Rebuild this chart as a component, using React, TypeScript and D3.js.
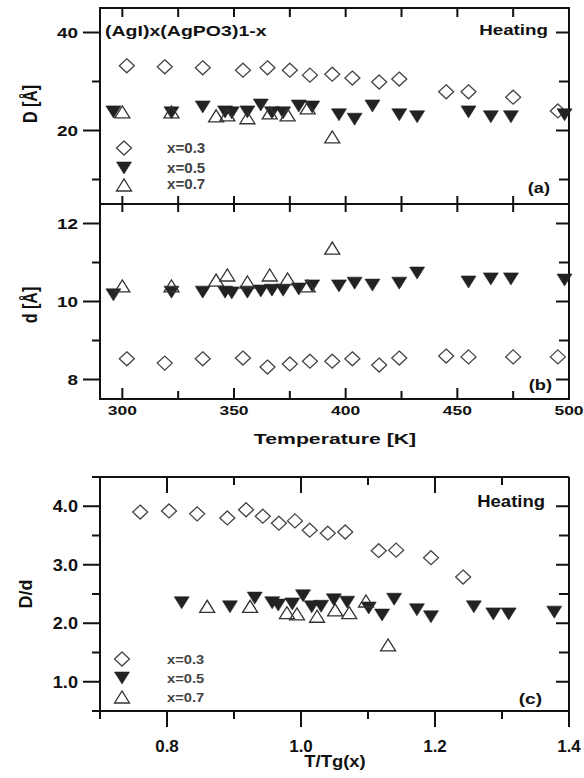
import React from 'react'
import * as d3 from 'd3'

// (AgI)x(AgPO3)1-x, heating run. values
const seriesLabels = ['x=0.3', 'x=0.5', 'x=0.7']

const temp03 = [302, 319, 336, 354, 365, 375, 384, 394, 403, 415, 424, 445, 455, 475, 495]
const bigD03 = [33.2, 33.0, 32.8, 32.3, 32.8, 32.3, 31.3, 31.5, 30.7, 29.9, 30.5, 27.9, 27.9, 26.8, 24.0]
const smallD03 = [8.53, 8.42, 8.53, 8.55, 8.32, 8.4, 8.47, 8.47, 8.53, 8.37, 8.55, 8.6, 8.58, 8.58, 8.58]

const temp05 = [296, 322, 336, 346, 349, 356, 362, 367, 372, 379, 385, 397, 404, 412, 424, 432, 455, 465, 474, 498]
const bigD05 = [23.8, 23.6, 24.8, 23.8, 23.6, 23.8, 25.2, 23.6, 23.6, 25.0, 24.8, 23.2, 22.3, 25.0, 23.2, 22.8, 23.8, 22.8, 22.8, 23.2]
const smallD05 = [10.17, 10.24, 10.24, 10.24, 10.22, 10.24, 10.27, 10.29, 10.29, 10.32, 10.4, 10.4, 10.47, 10.42, 10.47, 10.73, 10.5, 10.58, 10.58, 10.55]

const temp07 = [300, 322, 342, 347, 356, 366, 374, 383, 394]
const bigD07 = [23.8, 23.8, 23.0, 23.2, 22.6, 23.6, 23.2, 24.6, 18.7]
const smallD07 = [10.4, 10.4, 10.55, 10.68, 10.5, 10.68, 10.58, 10.4, 11.37]

const tRel03 = [0.76, 0.803, 0.845, 0.89, 0.918, 0.943, 0.967, 0.991, 1.013, 1.04, 1.066, 1.116, 1.142, 1.194, 1.242]
const ratio03 = [3.9, 3.92, 3.87, 3.8, 3.94, 3.83, 3.71, 3.75, 3.59, 3.54, 3.56, 3.24, 3.25, 3.12, 2.79]

const tRel05 = [0.822, 0.894, 0.931, 0.957, 0.966, 0.987, 1.003, 1.016, 1.03, 1.049, 1.069, 1.101, 1.121, 1.139, 1.173, 1.194, 1.258, 1.287, 1.31, 1.378]
const ratio05 = [2.35, 2.28, 2.43, 2.35, 2.31, 2.33, 2.47, 2.28, 2.29, 2.4, 2.36, 2.26, 2.14, 2.41, 2.23, 2.11, 2.28, 2.16, 2.16, 2.19]

const tRel07 = [0.86, 0.924, 0.979, 0.994, 1.024, 1.051, 1.072, 1.097, 1.13]
const ratio07 = [2.29, 2.29, 2.18, 2.16, 2.12, 2.23, 2.18, 2.38, 1.63]

const tempTicks = [300, 350, 400, 450, 500]
const bigDTicks = [20, 40]
const smallDTicks = [8, 10, 12]
const relTicks = [0.8, 1.0, 1.2, 1.4]
const ratioTicks = [1.0, 2.0, 3.0, 4.0]

const FONT = '"Liberation Sans", Arial, Helvetica, sans-serif'
const L = 100
const R = 569

const xT = d3.scaleLinear().domain([290, 500]).range([L, R])
const yBig = d3.scaleLinear().domain([5, 45]).range([204, 8])
const ySmall = d3.scaleLinear().domain([7.5, 12.5]).range([399, 204])
const xRel = d3.scaleLinear().domain([0.7, 1.4]).range([L, R])
const yRatio = d3.scaleLinear().domain([0.5, 4.5]).range([711, 477])

const markerPath = (kind, cx, cy) => {
  const p = d3.path()
  if (kind === 'diamond') {
    p.moveTo(cx, cy - 7)
    p.lineTo(cx + 7.5, cy)
    p.lineTo(cx, cy + 7)
    p.lineTo(cx - 7.5, cy)
  } else if (kind === 'down') {
    p.moveTo(cx - 7.5, cy - 6)
    p.lineTo(cx + 7.5, cy - 6)
    p.lineTo(cx, cy + 6)
  } else {
    p.moveTo(cx - 7.5, cy + 6)
    p.lineTo(cx + 7.5, cy + 6)
    p.lineTo(cx, cy - 6)
  }
  p.closePath()
  return p.toString()
}

const markerStyle = {
  diamond: { fill: 'none', stroke: '#444', strokeWidth: 1.3 },
  down: { fill: '#222', stroke: '#222', strokeWidth: 0.6 },
  up: { fill: 'none', stroke: '#333', strokeWidth: 1.3 }
}

const Marker = ({ kind, x, y }) => <path d={markerPath(kind, x, y)} {...markerStyle[kind]} />

const Txt = ({ x, y, size, sx = 1, anchor = 'start', rotate = 0, fill = '#111', children }) => (
  <text
    transform={`translate(${x},${y}) scale(${sx},1)${rotate ? ` rotate(${rotate})` : ''}`}
    fontSize={size}
    fontWeight="bold"
    fontFamily={FONT}
    textAnchor={anchor}
    fill={fill}
  >
    {children}
  </text>
)

// tick marks along an axis; offsets are relative to the axis line
const tickMarks = (key, vals, scale, isMajor, axis, at, major, minor) =>
  vals.map(v => {
    const [a, b] = isMajor(v) ? major : minor
    const p = scale(v)
    return axis === 'x' ? (
      <line key={key + v} x1={p} x2={p} y1={at + a} y2={at + b} />
    ) : (
      <line key={key + v} x1={at + a} x2={at + b} y1={p} y2={p} />
    )
  })

const scatter = (key, kind, xs, ys, sx, sy) =>
  xs.map((v, i) => <Marker key={key + i} kind={kind} x={sx(v)} y={sy(ys[i])} />)

const legend = (x, ys, tx, tys, size, sx) => {
  const kinds = ['diamond', 'down', 'up']
  return kinds.map((k, i) => (
    <g key={'lg' + k}>
      <Marker kind={k} x={x} y={ys[i]} />
      <Txt x={tx} y={tys[i]} size={size} sx={sx} fill="#444">
        {seriesLabels[i]}
      </Txt>
    </g>
  ))
}

const App = () => {
  const tempMinor = d3.range(300, 501, 25)
  const isTempMajor = v => v % 50 === 0
  const relMinor = d3.range(7, 15).map(d => d / 10)
  const isRelMajor = v => Math.round(v * 10) % 2 === 0
  const ratioMinor = d3.range(2, 9).map(d => d / 2)

  return (
    <svg width={584} height={778} style={{ position: 'absolute', left: 0, top: 0, background: '#fff' }}>
      {/* upper figure: panels (a) and (b) */}
      <g stroke="#111" strokeWidth={2} fill="none">
        <rect x={L} y={8} width={R - L} height={391} />
        <line x1={L} x2={R} y1={204} y2={204} />
        {tickMarks('ta', tempMinor, xT, isTempMajor, 'x', 8, [0, 9], [0, 9])}
        {tickMarks('tm', tempMinor, xT, isTempMajor, 'x', 204, [-8, 8], [-8, 8])}
        {tickMarks('tb', tempMinor, xT, isTempMajor, 'x', 399, [-11, 0], [-8, 0])}
        {tickMarks('la', [10, 20, 30, 40], yBig, v => v % 20 === 0, 'y', L, [-17, 0], [-8, 0])}
        {tickMarks('ra', [10, 20, 30, 40], yBig, v => v % 20 === 0, 'y', R, [-13, 0], [-10, 0])}
        {tickMarks('lb', [8, 9, 10, 11, 12], ySmall, v => v % 2 === 0, 'y', L, [-17, 0], [-8, 0])}
        {tickMarks('rb', [8, 9, 10, 11, 12], ySmall, v => v % 2 === 0, 'y', R, [-13, 0], [-10, 0])}
      </g>

      {bigDTicks.map(v => (
        <Txt key={'yla' + v} x={78} y={yBig(v) + 5} size={14} sx={1.35} anchor="end">
          {v}
        </Txt>
      ))}
      {smallDTicks.map(v => (
        <Txt key={'ylb' + v} x={78} y={ySmall(v) + 5} size={14} sx={1.35} anchor="end">
          {v}
        </Txt>
      ))}
      {tempTicks.map(v => (
        <Txt key={'xlb' + v} x={xT(v)} y={415} size={12.5} sx={1.4} anchor="middle">
          {v}
        </Txt>
      ))}
      <Txt x={335} y={444} size={15.5} sx={1.37} anchor="middle">
        Temperature [K]
      </Txt>
      <Txt x={37} y={104} size={16} sx={1.3} rotate={-90} anchor="middle">
        D [Å]
      </Txt>
      <Txt x={37} y={305} size={16} sx={1.3} rotate={-90} anchor="middle">
        d [Å]
      </Txt>
      <Txt x={105} y={36} size={15.5} sx={1.26}>
        (AgI)x(AgPO3)1-x
      </Txt>
      <Txt x={548} y={35} size={15.4} sx={1.22} anchor="end">
        Heating
      </Txt>
      <Txt x={550} y={193} size={14} sx={1.3} anchor="end">
        (a)
      </Txt>
      <Txt x={552} y={390} size={14} sx={1.3} anchor="end">
        (b)
      </Txt>

      {scatter('a3', 'diamond', temp03, bigD03, xT, yBig)}
      {scatter('a5', 'down', temp05, bigD05, xT, yBig)}
      {scatter('a7', 'up', temp07, bigD07, xT, yBig)}
      {scatter('b3', 'diamond', temp03, smallD03, xT, ySmall)}
      {scatter('b5', 'down', temp05, smallD05, xT, ySmall)}
      {scatter('b7', 'up', temp07, smallD07, xT, ySmall)}
      {legend(124, [148, 168, 185], 167, [153, 173, 189], 14, 1.08)}

      {/* lower figure: panel (c) */}
      <g stroke="#111" strokeWidth={2} fill="none">
        <line x1={92} x2={R} y1={477} y2={477} />
        <line x1={92} x2={R} y1={711} y2={711} />
        <line x1={L} x2={L} y1={477} y2={711} />
        <line x1={R} x2={R} y1={477} y2={711} />
        {tickMarks('tc', relMinor, xRel, isRelMajor, 'x', 477, [0, 16], [0, 8])}
        {tickMarks('bc', relMinor, xRel, isRelMajor, 'x', 711, [0, 16], [0, 8])}
        {tickMarks('lc', ratioMinor, yRatio, v => Number.isInteger(v), 'y', L, [-17, 0], [-8, 0])}
        {tickMarks('rc', ratioMinor, yRatio, v => Number.isInteger(v), 'y', R, [-13, 0], [-10, 0])}
      </g>

      {ratioTicks.map(v => (
        <Txt key={'ylc' + v} x={78} y={yRatio(v) + 6} size={16.5} sx={1.1} anchor="end">
          {v.toFixed(1)}
        </Txt>
      ))}
      {relTicks.map(v => (
        <Txt key={'xlc' + v} x={xRel(v)} y={752} size={17} anchor="middle">
          {v.toFixed(1)}
        </Txt>
      ))}
      <Txt x={335} y={767} size={16.5} sx={1.12} anchor="middle">
        T/Tg(x)
      </Txt>
      <Txt x={32} y={594} size={18} rotate={-90} anchor="middle">
        D/d
      </Txt>
      <Txt x={545} y={507} size={15.8} sx={1.17} anchor="end">
        Heating
      </Txt>
      <Txt x={542} y={704} size={15} sx={1.27} anchor="end">
        (c)
      </Txt>

      {scatter('c3', 'diamond', tRel03, ratio03, xRel, yRatio)}
      {scatter('c5', 'down', tRel05, ratio05, xRel, yRatio)}
      {scatter('c7', 'up', tRel07, ratio07, xRel, yRatio)}
      {legend(122, [659, 678, 697], 167, [664, 683, 702], 13, 1.13)}
    </svg>
  )
}

export default App
